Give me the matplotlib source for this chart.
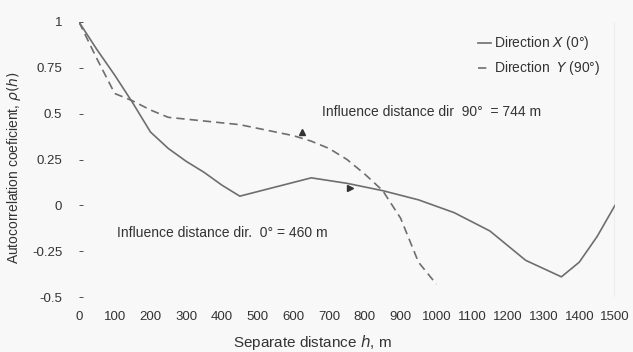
import matplotlib
matplotlib.use('Agg')
import matplotlib.pyplot as plt
import numpy as np

# dados (distância em m, coeficiente de autocorrelação)
dist_x = [0, 50, 100, 150, 200, 250, 300, 350, 400, 450, 650, 750, 850, 950,
          1050, 1150, 1250, 1350, 1400, 1450, 1500]
rho_x = [1.0, 0.85, 0.71, 0.56, 0.40, 0.31, 0.24, 0.18, 0.11, 0.05, 0.15, 0.12,
         0.08, 0.03, -0.04, -0.14, -0.30, -0.39, -0.31, -0.17, 0.0]

dist_y = [0, 50, 100, 150, 200, 250, 300, 350, 400, 450, 500, 550, 600, 650,
          700, 750, 800, 850, 900, 950, 1000]
rho_y = [1.0, 0.80, 0.61, 0.57, 0.52, 0.48, 0.47, 0.46, 0.45, 0.44, 0.42, 0.40,
         0.38, 0.35, 0.31, 0.25, 0.17, 0.08, -0.07, -0.31, -0.43]

x_ticks = list(range(0, 1501, 100))
y_ticks = [1, 0.75, 0.5, 0.25, 0, -0.25, -0.5]
y_tick_labels = ['1', '0.75', '0.5', '0.25', '0', '-0.25', '-0.5']

# pontas de seta das anotações
seta_90 = (624, 0.40)
seta_0 = (758, 0.093)

plt.rcParams['font.family'] = ['Liberation Sans', 'DejaVu Sans']

fig = plt.figure(figsize=(6.33, 3.52), dpi=100)
fig.patch.set_facecolor('#f8f8f8')
ax = fig.add_axes([79 / 633, 1 - 297 / 352, (615 - 79) / 633, (297 - 22) / 352])
ax.set_facecolor('#f8f8f8')

cor = '#6e6e6e'
ax.plot(dist_x, rho_x, color=cor, lw=1.2, label=r'Direction $\mathit{X}$ (0°)')
ax.plot(dist_y, rho_y, color=cor, lw=1.2, ls=(0, (5, 3)),
        label=r'Direction  $\mathit{Y}$ (90°)')

ax.plot(*seta_90, marker='^', color='#333333', ms=5, ls='none')
ax.plot(*seta_0, marker='>', color='#333333', ms=5, ls='none')

ax.axvline(1500, color='#bbbbbb', lw=1)

ax.text(680, 0.51, 'Influence distance dir  90°  = 744 m', fontsize=10,
        color='#333333', va='center')
ax.text(106, -0.15, 'Influence distance dir.  0° = 460 m', fontsize=10,
        color='#333333', va='center')

ax.set_xlim(0, 1500)
ax.set_ylim(-0.5, 1)
ax.set_xticks(x_ticks)
ax.set_yticks(y_ticks)
ax.set_yticklabels(y_tick_labels)
ax.tick_params(axis='x', length=0, pad=10, labelsize=9.5, colors='#333333')
ax.tick_params(axis='y', length=3, width=0.6, pad=12, labelsize=9.5,
               colors='#333333', direction='in')
for s in ax.spines.values():
    s.set_visible(False)

ax.set_ylabel(r'Autocorrelation coeficient, $\rho(h)$', fontsize=10,
              color='#333333')
ax.yaxis.set_label_coords(-0.105, 0.47)
ax.set_xlabel(r'Separate distance $h$, m', fontsize=11, color='#333333')
ax.xaxis.set_label_coords(0.435, -0.13)

leg = ax.legend(loc='upper right', bbox_to_anchor=(0.995, 1.0), frameon=False,
                fontsize=10, handlelength=0.9, handletextpad=0.2,
                labelspacing=0.5, labelcolor='#333333')

fig.savefig('out.png', dpi=100, facecolor=fig.get_facecolor())
